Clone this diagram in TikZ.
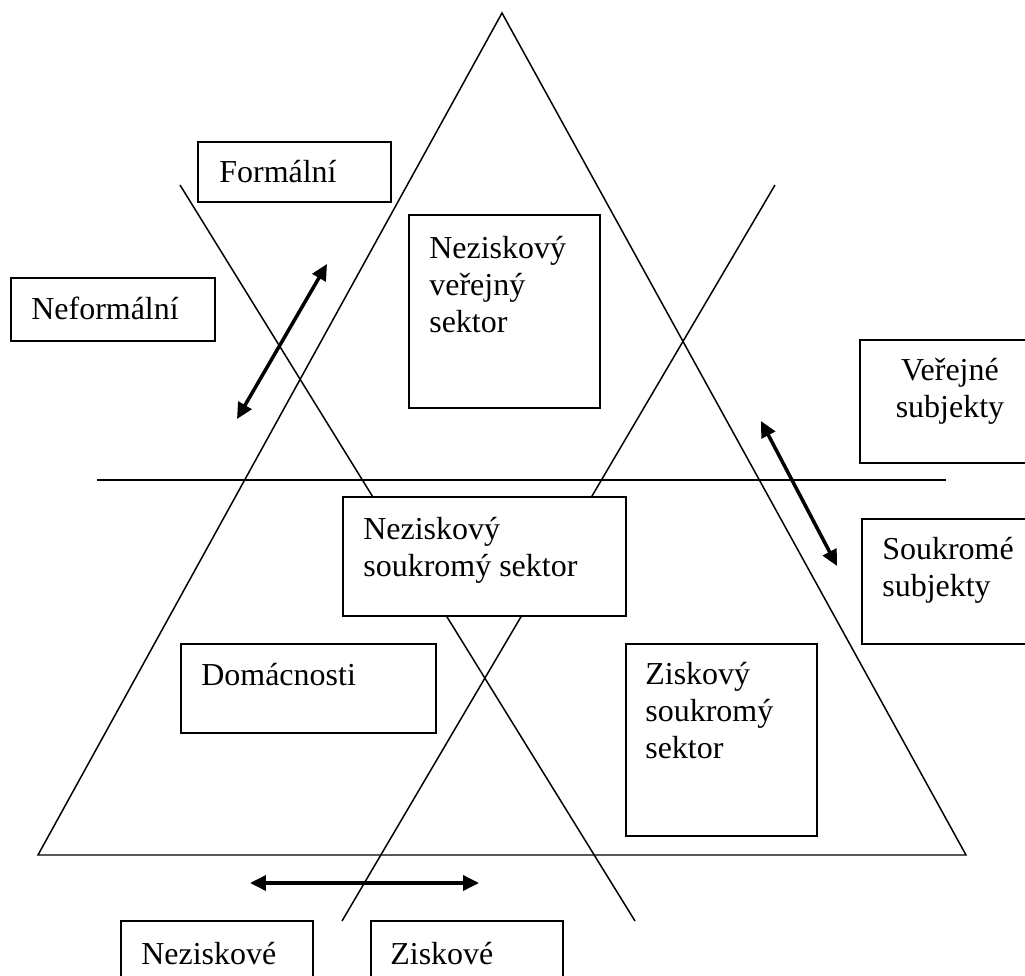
\documentclass[tikz,border=0pt]{standalone}
\usepackage{fontspec}
\setmainfont{Liberation Serif}
\usetikzlibrary{arrows.meta,positioning}

\tikzset{
  thinline/.style={line width=0.85pt},
  sectorbox/.style={draw, line width=1.1pt, fill=white, inner sep=0pt, anchor=north west},
  sectortext/.style={inner sep=0pt, align=left, font=\fontsize{18.2}{21}\selectfont},
  flowarrow/.style={line width=2pt, {Triangle[length=0.32cm,width=0.3cm]}-{Triangle[length=0.32cm,width=0.3cm]}}
}

\begin{document}
\begin{tikzpicture}[x=0.02cm, y=-0.02cm]
        \useasboundingbox (0,0) rectangle (1025,976);

        \coordinate (apex)  at (502,13);                              %
        \coordinate (baseL) at (38,855);                              %
        \coordinate (baseR) at (966,855);                             %
        \draw [thinline]  (apex) -- (baseR) -- (baseL) -- cycle;      %triangle
        \draw [thinline]  (180,185) -- (635,921);                     %formal -> zisk
        \draw [thinline]  (775,185) -- (342,921);                     %verejne -> nezisk
        \draw [thinline]  (97,480)  -- (946,480);                     %verejne / soukrome

        \node [sectorbox, minimum width=3.86cm, minimum height=1.20cm] (formal)    at (197,141) {};
        \node [sectortext, anchor=north west, below right=0.38cm and 0.44cm of formal.north west]    {Formální};
        \node [sectorbox, minimum width=4.08cm, minimum height=1.26cm] (neformal)  at (10,277)  {};
        \node [sectortext, anchor=north west, below right=0.40cm and 0.42cm of neformal.north west]  {Neformální};
        \node [sectorbox, minimum width=3.82cm, minimum height=3.86cm] (verejny)   at (408,214) {};
        \node [sectortext, anchor=north west, below right=0.44cm and 0.42cm of verejny.north west]   {Neziskový\\veřejný\\sektor};
        \node [sectorbox, minimum width=3.60cm, minimum height=2.46cm] (verejne)   at (859,339) {};
        \node [sectortext, align=center, below=0.38cm of verejne.north]                             {Veřejné\\subjekty};
        \node [sectorbox, minimum width=3.60cm, minimum height=2.50cm] (soukrome)  at (861,518) {};
        \node [sectortext, anchor=north west, below right=0.38cm and 0.42cm of soukrome.north west]  {Soukromé\\subjekty};
        \node [sectorbox, minimum width=5.66cm, minimum height=2.38cm] (nsoukromy) at (342,496) {};
        \node [sectortext, anchor=north west, below right=0.42cm and 0.42cm of nsoukromy.north west] {Neziskový\\soukromý sektor};
        \node [sectorbox, minimum width=5.10cm, minimum height=1.78cm] (domac)     at (180,643) {};
        \node [sectortext, anchor=north west, below right=0.40cm and 0.42cm of domac.north west]     {Domácnosti};
        \node [sectorbox, minimum width=3.82cm, minimum height=3.84cm] (zsoukromy) at (625,643) {};
        \node [sectortext, anchor=north west, below right=0.38cm and 0.40cm of zsoukromy.north west] {Ziskový\\soukromý\\sektor};
        \node [sectorbox, minimum width=3.84cm, minimum height=1.60cm] (neziskove) at (120,920) {};
        \node [sectortext, anchor=north west, below right=0.44cm and 0.42cm of neziskove.north west] {Neziskové};
        \node [sectorbox, minimum width=3.84cm, minimum height=1.60cm] (ziskove)   at (370,920) {};
        \node [sectortext, anchor=north west, below right=0.44cm and 0.40cm of ziskove.north west]   {Ziskové};

        \coordinate (neformalEnd) at (237,419);                       %
        \coordinate (formalEnd)   at (327,264);                       %
        \coordinate (verejneEnd)  at (761,421);                       %
        \coordinate (soukromeEnd) at (837,566);                       %
        \coordinate (neziskEnd)   at (250,883);                       %
        \coordinate (ziskEnd)     at (479,883);                       %
        \draw [flowarrow] (neformalEnd) -- (formalEnd);               %
        \draw [flowarrow] (verejneEnd)  -- (soukromeEnd);             %
        \draw [flowarrow] (neziskEnd)   -- (ziskEnd);                 %
\end{tikzpicture}
\end{document}
